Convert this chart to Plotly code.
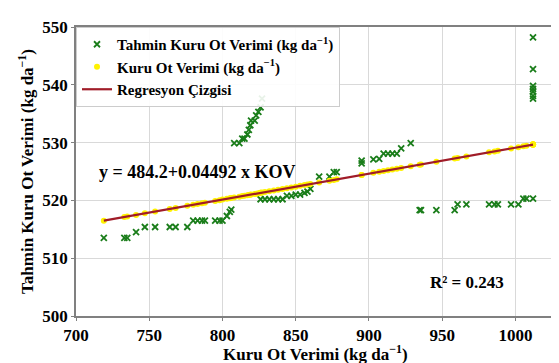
import plotly.graph_objects as go
import numpy as np

# Observed dry hay yield (x) and predicted (y) values
kov = [719, 733, 735, 741, 747, 754, 764, 768, 776, 780, 783, 786, 788, 795, 798, 800, 803, 805, 806,
       808, 811.5, 813.5, 815, 817, 818, 819, 819.5, 822, 823, 824.5, 826, 827,
       826, 829, 832, 835, 838, 841, 844, 847, 850, 853, 856, 858, 860,
       866, 873, 876, 878, 895, 895, 903, 907, 910, 913, 916, 919, 922, 928.5,
       934.6, 935.5, 946, 958.5, 960.5, 966.5, 982, 985.7, 988, 997, 1002, 1005.4, 1007.5, 1012,
       1012, 1012, 1012, 1012, 1012, 1012, 1012]
tahmin = [513.5, 513.5, 513.5, 514.5, 515.4, 515.4, 515.4, 515.4, 515.4, 516.5, 516.5, 516.5, 516.5, 516.5, 516.5, 516.5, 517.3, 518.0, 518.4,
          529.9, 529.9, 530.7, 530.7, 531.4, 532.2, 533.0, 533.8, 533.8, 534.7, 535.3, 536.1, 537.6,
          520.2, 520.2, 520.2, 520.2, 520.2, 520.2, 520.8, 520.8, 521.0, 521.0, 521.3, 521.5, 522.0,
          524.1, 524.1, 524.9, 524.9, 526.4, 526.9, 527.1, 527.2, 528.1, 528.1, 528.1, 528.1, 529.0, 529.9,
          518.3, 518.3, 518.3, 518.3, 519.3, 519.3, 519.3, 519.3, 519.3, 519.3, 519.3, 520.3, 520.3, 520.3,
          548.2, 542.7, 539.8, 539.3, 538.8, 538.1, 537.6]

intercept = 484.2
slope = 0.04492
r2 = 0.243

x_ticks = [700, 750, 800, 850, 900, 950, 1000]
y_ticks = [500, 510, 520, 530, 540, 550]

x_title = "Kuru Ot Verimi (kg da<sup>\u22121</sup>)"
y_title = "Tahmin Kuru Ot Verimi (kg da<sup>\u22121</sup>)"

kov_arr = np.array(kov, dtype=float)
reg_y = intercept + slope * kov_arr
line_x = np.array([kov_arr.min(), kov_arr.max()])
line_y = intercept + slope * line_x

FONT = "Liberation Serif"

fig = go.Figure()
fig.add_trace(go.Scatter(
    x=kov, y=tahmin, mode="markers",
    name="Tahmin Kuru Ot Verimi (kg da<sup>\u22121</sup>)",
    marker=dict(symbol="x-thin-open", size=6, color="#1a7d1a", line=dict(width=1.8, color="#1a7d1a")),
))
fig.add_trace(go.Scatter(
    x=kov_arr, y=reg_y, mode="markers",
    name="Kuru Ot Verimi (kg da<sup>\u22121</sup>)",
    marker=dict(symbol="circle", size=6, color="#fff200"),
))
fig.add_trace(go.Scatter(
    x=line_x, y=line_y, mode="lines",
    name="Regresyon \u00c7izgisi",
    line=dict(color="#a01c28", width=2.2),
))

fig.add_annotation(x=783, y=525, text=f"y = {intercept}+{slope} x KOV", showarrow=False,
                   font=dict(family=FONT, size=18, color="black", weight="bold"))
fig.add_annotation(x=967, y=505.8, text=f"R\u00b2 = {r2}", showarrow=False,
                   font=dict(family=FONT, size=17, color="black", weight="bold"))
fig.add_annotation(xref="paper", yref="paper", x=0.5, y=0, xanchor="center", yanchor="top",
                   yshift=-24, text=x_title, showarrow=False,
                   font=dict(family=FONT, size=17, color="black", weight="bold"))

axis_common = dict(showgrid=True, gridcolor="#d9d9d9", gridwidth=1, showline=True, linecolor="#808080",
                   linewidth=1.5, mirror=True, ticks="outside", ticklen=3, tickcolor="#808080",
                   zeroline=False, tickfont=dict(family=FONT, size=17, color="black", weight="bold"))

fig.update_layout(
    width=559, height=363,
    margin=dict(l=68, r=10, t=10, b=55),
    paper_bgcolor="white", plot_bgcolor="white",
    font=dict(family=FONT, color="black", weight="bold"),
    xaxis=dict(range=[700, 1027], tickvals=x_ticks, ticktext=[str(v) for v in x_ticks],
               **axis_common),
    yaxis=dict(range=[500, 550], tickvals=y_ticks, ticktext=[str(v) for v in y_ticks],
               title=dict(text=y_title, standoff=4,
                          font=dict(family=FONT, size=17, color="black", weight="bold")),
               **axis_common),
    legend=dict(x=0.0, y=1.0, xanchor="left", yanchor="top", bgcolor="rgba(255,255,255,0.9)",
                bordercolor="#cccccc", borderwidth=1, tracegroupgap=2,
                font=dict(family=FONT, size=15, color="black", weight="bold")),
    showlegend=True,
)

fig.write_html("out.html")
